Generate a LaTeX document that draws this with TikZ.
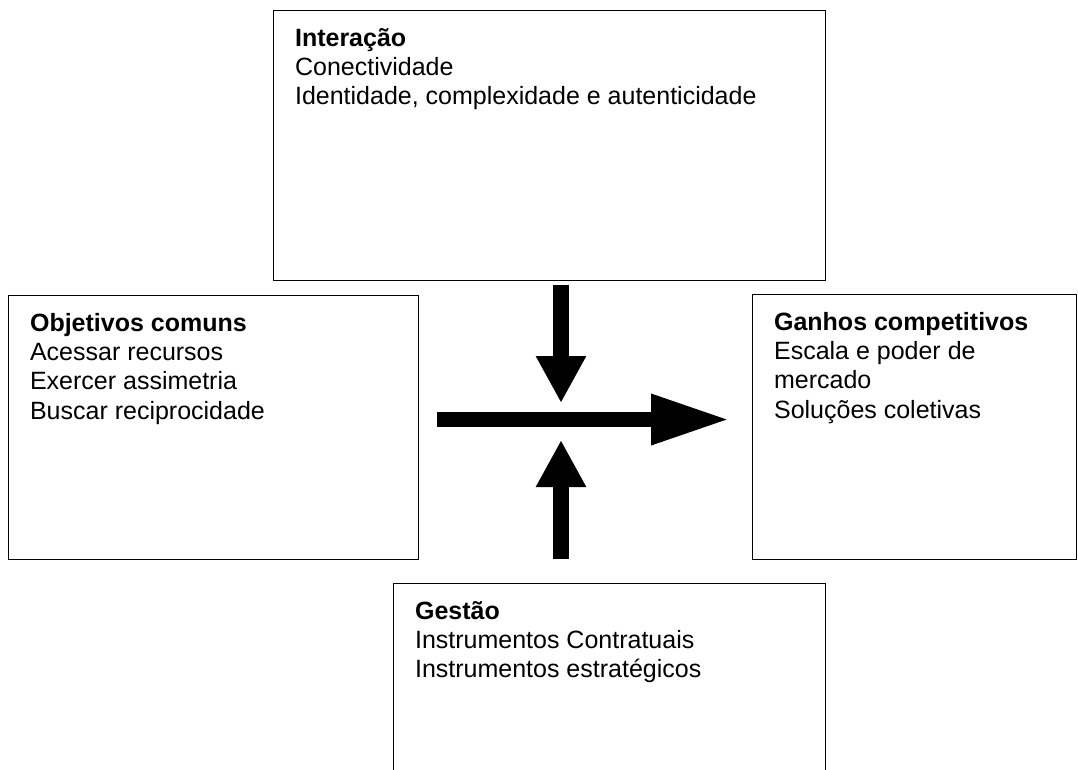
\documentclass[tikz,border=0pt]{standalone}
\usepackage{fontspec}
\setmainfont{Liberation Sans}
\usetikzlibrary{arrows.meta}

\newcommand{\boxtext}[3]{\parbox[t][#2][t]{#1}{\raggedright #3}}

\begin{document}
\begin{tikzpicture}[x=0.75pt,y=-0.75pt,
  box/.style={draw,line width=1.1pt,anchor=north west,inner xsep=16pt,inner ysep=13pt,
    font=\fontsize{18.75}{22}\selectfont},
  vertarrow/.style={line width=11.6pt,-{Triangle[length=35.25pt,width=35.25pt]}},
  horzarrow/.style={line width=11.6pt,-{Triangle[length=59.25pt,width=35.25pt]}}]
\clip (0,0) rectangle (1078,769);

%Interacao
\node[box] (interacao) at (273,10) {\boxtext{382pt}{176.5pt}{\textbf{Interação}\\
  Conectividade\\
  Identidade, complexidade e autenticidade}};

%Objetivos
\node[box] (objetivos) at (8,295) {\boxtext{275.5pt}{172pt}{\textbf{Objetivos comuns}\\
  Acessar recursos\\
  Exercer assimetria\\
  Buscar reciprocidade}};

%Ganhos
\node[box] (ganhos) at (752,294) {\boxtext{211pt}{172.75pt}{\textbf{Ganhos competitivos}\\
  Escala e poder de\\
  mercado\\
  Soluções coletivas}};

%Gestao
\node[box] (gestao) at (393,583) {\boxtext{292pt}{136.75pt}{\textbf{Gestão}\\
  Instrumentos Contratuais\\
  Instrumentos estratégicos}};

%arrows
\coordinate (downtip) at (561,403);
\coordinate (uptip) at (561,440);
\coordinate (righttip) at (730,419.5);
\draw[vertarrow] ([yshift=-3pt]interacao.south -| downtip) -- (downtip);
\draw[vertarrow] ([yshift=18pt]gestao.north -| uptip) -- (uptip);
\draw[horzarrow] ([xshift=13.5pt]objetivos.east |- righttip) -- (righttip);

\end{tikzpicture}
\end{document}
